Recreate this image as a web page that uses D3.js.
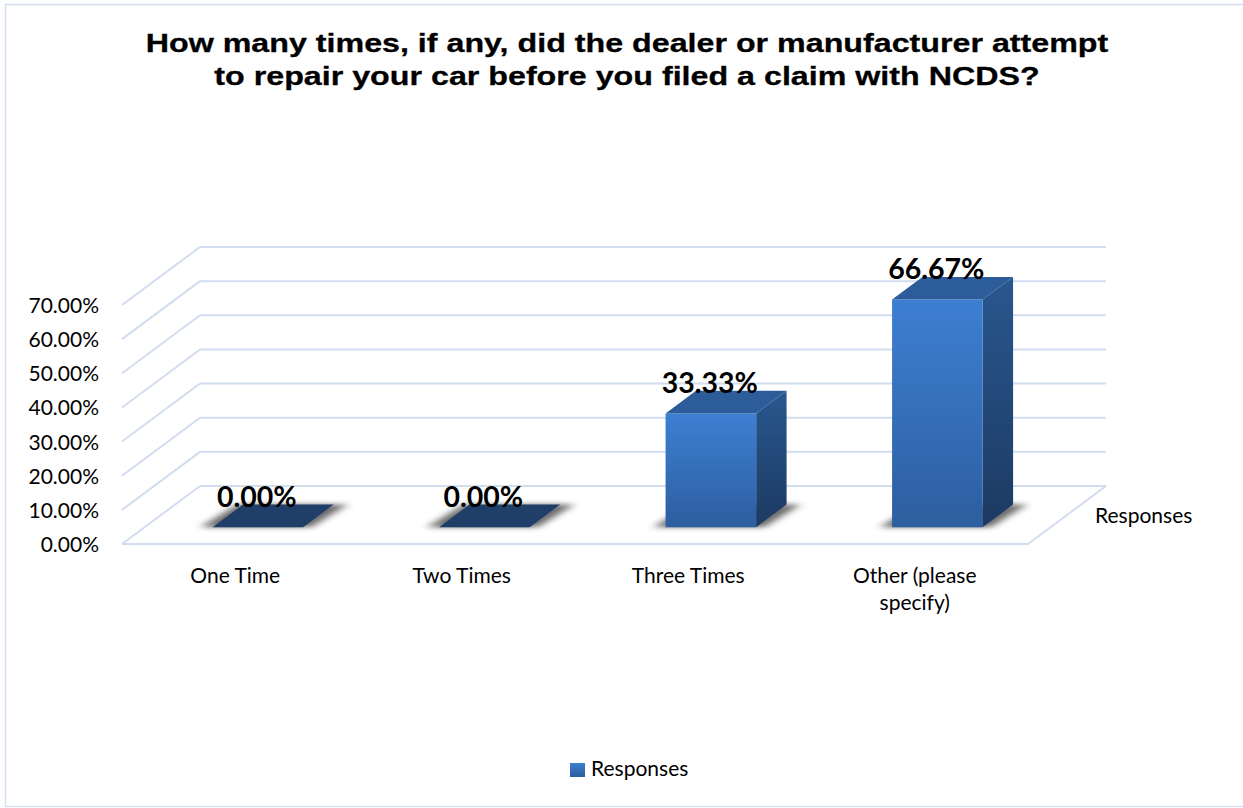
<!DOCTYPE html>
<html>
<head>
<meta charset="utf-8">
<script src="https://cdn.jsdelivr.net/npm/d3@7"></script>
<style>
  html, body { margin: 0; padding: 0; background: #fff; }
  svg { display: block; }
</style>
</head>
<body>
<svg id="chart" width="1243" height="808"></svg>
<script>
// Survey responses: attempts to repair before an NCDS claim
const categories = ["One Time", "Two Times", "Three Times", "Other (please specify)"];
const responses = [0, 0, 0.3333, 0.6667];
const valueLabels = ["0.00%", "0.00%", "33.33%", "66.67%"];
const yTicks = [0, 0.1, 0.2, 0.3, 0.4, 0.5, 0.6, 0.7];
const seriesName = "Responses";
const titleLines = [
  "How many times, if any, did the dealer or manufacturer attempt",
  "to repair your car before you filed a claim with NCDS?"
];

const svg = d3.select("#chart");
const W = 1243, H = 808;
const calibriLike = "Lato, 'Open Sans', sans-serif";
const textSize = 21;

// chart frame
svg.append("rect")
  .attr("x", 5.5).attr("y", 4.5)
  .attr("width", W).attr("height", 802)
  .attr("fill", "#fff")
  .attr("stroke", "#d6e0f1").attr("stroke-width", 1.5);

// scales: front plane (z = 0) and oblique depth offsets
const x = d3.scaleBand().domain(categories).range([122, 1028]);
const y = d3.scaleLinear().domain([0, 0.7]).range([544, 305]);
const depthX = d3.scaleLinear().domain([0, 1]).range([0, 78]);
const depthY = d3.scaleLinear().domain([0, 1]).range([0, -58]);
const barZ = [0.29, 0.68];
const barFrac = 0.4;

const P = (px, v, z) => [px + depthX(z), y(v) + depthY(z)];
const pts = arr => arr.map(p => p.join(",")).join(" ");

// defs: gradients + shadow blur
const defs = svg.append("defs");
const front = defs.append("linearGradient").attr("id", "gFront")
  .attr("x1", 0).attr("y1", 0).attr("x2", 0).attr("y2", 1);
front.append("stop").attr("offset", "0%").attr("stop-color", "#3d7fd2");
front.append("stop").attr("offset", "100%").attr("stop-color", "#2d5e9f");
const side = defs.append("linearGradient").attr("id", "gSide")
  .attr("x1", 0).attr("y1", 0).attr("x2", 0).attr("y2", 1);
side.append("stop").attr("offset", "0%").attr("stop-color", "#29578f");
side.append("stop").attr("offset", "100%").attr("stop-color", "#1c3a62");
const leg = defs.append("linearGradient").attr("id", "gLegend")
  .attr("x1", 0).attr("y1", 0).attr("x2", 0).attr("y2", 1);
leg.append("stop").attr("offset", "0%").attr("stop-color", "#3d7fd2");
leg.append("stop").attr("offset", "100%").attr("stop-color", "#2d5e9f");
defs.append("filter").attr("id", "fShadow")
  .attr("x", "-30%").attr("y", "-80%").attr("width", "160%").attr("height", "260%")
  .append("feGaussianBlur").attr("stdDeviation", "5 2.5");

const grid = "#d2ddf0";
const g = svg.append("g");

// back wall and side wall gridlines
yTicks.forEach(v => {
  const a = P(x.range()[0], v, 1), b = P(x.range()[1], v, 1), c = P(x.range()[0], v, 0);
  g.append("line").attr("x1", a[0]).attr("y1", a[1]).attr("x2", b[0]).attr("y2", b[1])
    .attr("stroke", grid).attr("stroke-width", 2);
  g.append("line").attr("x1", c[0]).attr("y1", c[1]).attr("x2", a[0]).attr("y2", a[1])
    .attr("stroke", grid).attr("stroke-width", 2);
});
// floor front and right edges
{
  const a = P(x.range()[0], 0, 0), b = P(x.range()[1], 0, 0), c = P(x.range()[1], 0, 1);
  g.append("polyline").attr("points", pts([a, b, c]))
    .attr("fill", "none").attr("stroke", grid).attr("stroke-width", 2);
}

const data = categories.map((c, i) => ({ c, v: responses[i], label: valueLabels[i] }));
const barX = d => x(d.c) + x.bandwidth() * (0.5 - barFrac / 2);
const barW = x.bandwidth() * barFrac;

// soft shadows under each bar footprint
g.selectAll(".shadow").data(data).join("polygon")
  .attr("class", "shadow")
  .attr("points", d => {
    const x0 = barX(d) - 12, x1 = barX(d) + barW + 8;
    return pts([P(x0, 0, barZ[0]), P(x1, 0, barZ[0]), P(x1 + 6, 0, barZ[1]), P(x0 + 6, 0, barZ[1])]);
  })
  .attr("fill", "#3a3a3a").attr("opacity", 0.75)
  .attr("filter", "url(#fShadow)");

// 3D columns
const bars = g.selectAll(".bar").data(data).join("g").attr("class", "bar");
bars.filter(d => d.v > 0).append("polygon")
  .attr("points", d => {
    const x1 = barX(d) + barW;
    return pts([P(x1, 0, barZ[0]), P(x1, 0, barZ[1]), P(x1, d.v, barZ[1]), P(x1, d.v, barZ[0])]);
  })
  .attr("fill", "url(#gSide)");
bars.filter(d => d.v > 0).append("polygon")
  .attr("points", d => {
    const x0 = barX(d), x1 = x0 + barW;
    return pts([P(x0, 0, barZ[0]), P(x1, 0, barZ[0]), P(x1, d.v, barZ[0]), P(x0, d.v, barZ[0])]);
  })
  .attr("fill", "url(#gFront)");
bars.append("polygon")
  .attr("points", d => {
    const x0 = barX(d), x1 = x0 + barW;
    return pts([P(x0, d.v, barZ[0]), P(x1, d.v, barZ[0]), P(x1, d.v, barZ[1]), P(x0, d.v, barZ[1])]);
  })
  .attr("fill", d => d.v > 0 ? "#2c5d9a" : "#1f3e68");

// value labels
g.selectAll(".vlabel").data(data).join("text")
  .attr("class", "vlabel")
  .attr("x", d => P(barX(d) + barW / 2, d.v, barZ[0])[0] - 1)
  .attr("y", d => P(0, d.v, barZ[1])[1] + 2)
  .attr("text-anchor", "middle")
  .attr("font-family", calibriLike).attr("font-weight", 700)
  .attr("font-size", 28.5).attr("fill", "#000")
  .text(d => d.label);

// value axis labels
const yAxis = svg.append("g")
  .attr("transform", `translate(${x.range()[0]},0)`)
  .call(d3.axisLeft(y).tickValues(yTicks).tickFormat(d3.format(".2%")).tickSize(0).tickPadding(23));
yAxis.select(".domain").remove();
yAxis.selectAll("text")
  .attr("font-family", calibriLike).attr("font-size", textSize).attr("fill", "#000")
  .attr("dy", "0.36em");

// category axis labels with wrapping
const xAxis = svg.append("g")
  .attr("transform", `translate(0,${y(0)})`)
  .call(d3.axisBottom(x).tickSize(0).tickPadding(24));
xAxis.select(".domain").remove();
xAxis.selectAll("text")
  .attr("font-family", calibriLike).attr("font-size", textSize).attr("fill", "#000")
  .each(function () {
    const t = d3.select(this);
    const words = t.text().split(" ");
    const yAttr = t.attr("y"), dy = t.attr("dy");
    t.text(null);
    let line = [], lineNo = 0;
    let ts = t.append("tspan").attr("x", 0).attr("y", yAttr).attr("dy", dy);
    words.forEach(w => {
      line.push(w);
      ts.text(line.join(" "));
      if (ts.node().getComputedTextLength() > 145 && line.length > 1) {
        line.pop();
        ts.text(line.join(" "));
        line = [w];
        lineNo++;
        ts = t.append("tspan").attr("x", 0).attr("y", yAttr)
          .attr("dy", (0.71 + lineNo * 1.29) + "em").text(w);
      }
    });
  });

// depth (series) axis label
{
  const p = P(x.range()[1], 0, 1);
  svg.append("text")
    .attr("x", p[0] - 11).attr("y", p[1] + 37)
    .attr("font-family", calibriLike).attr("font-size", textSize).attr("fill", "#000")
    .text(seriesName);
}

// title, widened horizontally
svg.append("g")
  .attr("transform", "translate(627,0) scale(1.23,1)")
  .append("text")
  .attr("x", 0).attr("y", 52)
  .attr("text-anchor", "middle")
  .attr("font-family", "'Liberation Sans', Arial, sans-serif")
  .attr("font-weight", 700).attr("font-size", 26.2).attr("fill", "#000")
  .attr("stroke", "#000").attr("stroke-width", 0.3)
  .selectAll("tspan").data(titleLines).join("tspan")
  .attr("x", 0).attr("dy", (d, i) => i === 0 ? 0 : 33)
  .text(d => d);

// legend
const lg = svg.append("g").attr("transform", "translate(570,763)");
lg.append("rect").attr("width", 15).attr("height", 14).attr("fill", "url(#gLegend)");
lg.append("text").attr("x", 21).attr("y", 12.5)
  .attr("font-family", calibriLike).attr("font-size", textSize).attr("fill", "#000")
  .text(seriesName);
</script>
</body>
</html>
